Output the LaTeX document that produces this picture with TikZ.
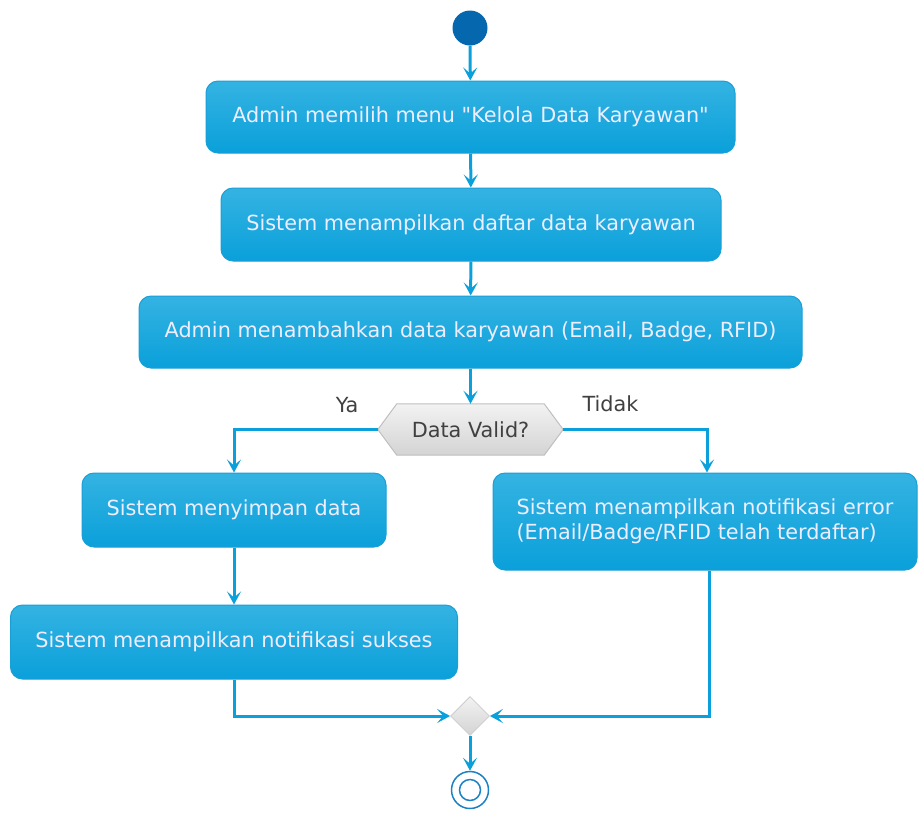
\documentclass[tikz,border=0pt]{standalone}
\usepackage{fontspec}
\setmainfont{DejaVu Sans}[Ligatures=TeXOff]
\usetikzlibrary{arrows.meta,shapes.geometric}
\definecolor{boxtop}{HTML}{34B3E2}
\definecolor{boxbot}{HTML}{0AA0DA}
\definecolor{boxline}{HTML}{1A9FD6}
\definecolor{flow}{HTML}{0AA0DB}
\definecolor{startc}{HTML}{0567AE}
\definecolor{endc}{HTML}{1C82C4}
\tikzset{
  act/.style={rectangle, rounded corners=12pt, draw=boxline, line width=1pt,
    top color=boxtop, bottom color=boxbot, text=white!93!blue,
    font=\fontsize{20.8}{25}\selectfont, inner sep=0pt},
  flowline/.style={draw=flow, line width=3pt},
  arr/.style={flowline, -{Stealth[length=13pt,width=14pt,inset=6pt]}},
  lbl/.style={font=\fontsize{20.8}{24}\selectfont, text=black!75},
}
\begin{document}
\begin{tikzpicture}[x=1pt,y=-1pt]
\useasboundingbox (0,0) rectangle (918,812);
% start
\node[circle, fill=startc, minimum size=35pt, inner sep=0pt] (start) at (470,28) {};
% activities
\node[act, minimum width=529pt, minimum height=72pt] (a1) at (470.5,117) {Admin memilih menu "Kelola Data Karyawan"};
\node[act, minimum width=500pt, minimum height=73pt] (a2) at (471,224.5) {Sistem menampilkan daftar data karyawan};
\node[act, minimum width=663pt, minimum height=72pt] (a3) at (470.5,332) {Admin menambahkan data karyawan (Email, Badge, RFID)};
% decision hexagon
\node[lbl, inner sep=0pt, minimum width=185pt, minimum height=51pt] (dec) at (470.5,429.5) {};
\path[top color=black!5, bottom color=black!17, draw=black!25, line width=1pt]
  ([xshift=19pt]dec.north west) -- ([xshift=-19pt]dec.north east) -- (dec.east)
  -- ([xshift=-19pt]dec.south east) -- ([xshift=19pt]dec.south west) -- (dec.west) -- cycle;
\node[lbl] at (dec.center) {Data Valid?};
\node[lbl, anchor=east] (ya) at (362,405) {Ya};
\node[lbl, anchor=west] (tidak) at (579,404) {Tidak};
% branches
\node[act, minimum width=304pt, minimum height=74pt] (a4) at (234,510) {Sistem menyimpan data};
\node[act, minimum width=447pt, minimum height=74pt] (a5) at (234,642) {Sistem menampilkan notifikasi sukses};
\node[act, minimum width=424pt, minimum height=97pt, align=left] (a6) at (705,521.5) {Sistem menampilkan notifikasi error\\(Email/Badge/RFID telah terdaftar)};
% merge
\node[diamond, top color=black!5, bottom color=black!17, draw=black!20, line width=0.8pt, minimum size=39pt, inner sep=0pt, aspect=1] (merge) at (470,716) {};
% end
\node[circle, draw=endc, line width=1.5pt, minimum size=37pt, inner sep=0pt] (stop) at (470,790) {};
\node[circle, draw=endc, line width=1.5pt, minimum size=21pt, inner sep=0pt] (stopin) at (470,790) {};
% connectors
\draw[arr] (start) -- (a1);
\draw[arr] (a1) -- (a2);
\draw[arr] (a2) -- (a3);
\draw[arr] (a3) -- (dec);
\draw[arr] (dec.west) -| (a4.north);
\draw[arr] (dec.east) -| ([xshift=2pt]a6.north);
\draw[arr] (a4) -- (a5);
\draw[arr] (a5.south) |- (merge.west);
\draw[arr] ([xshift=4pt]a6.south) |- (merge.east);
\draw[arr] (merge) -- (stop);
\end{tikzpicture}
\end{document}
